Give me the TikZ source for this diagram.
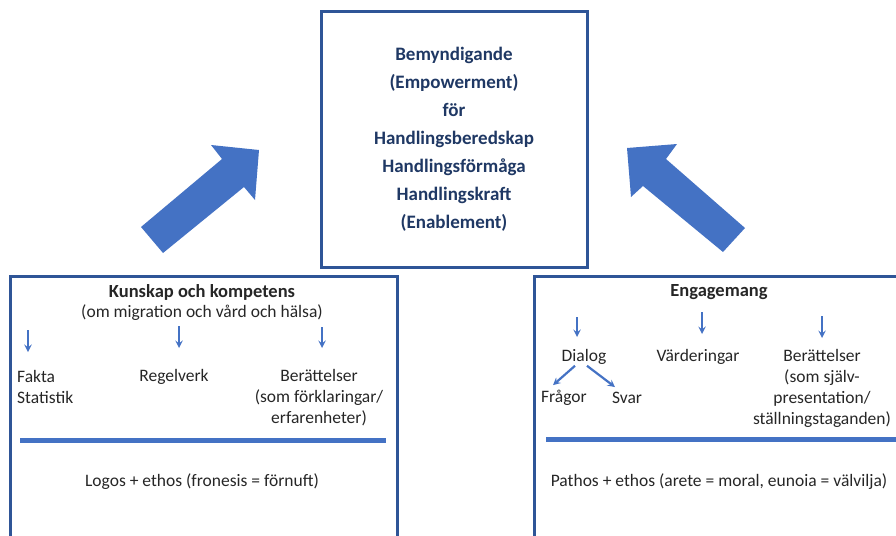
\documentclass[tikz,border=0pt]{standalone}
\usepackage{fontspec}
\setmainfont{Carlito}
\usetikzlibrary{positioning}
\definecolor{boxblue}{HTML}{2F5597}
\definecolor{arrblue}{HTML}{4472C4}
\definecolor{navy}{HTML}{1F3864}

\begin{document}
\begin{tikzpicture}[x=1pt,y=-1pt,
    frame/.style = {draw=boxblue, line width=3pt},
    txt/.style = {inner sep=0pt, align=center, text=black!85, font=\fontsize{17.5}{21}\selectfont},
    head/.style = {txt, font=\fontsize{18.5}{21}\selectfont\bfseries},
    small/.style = {draw=arrblue, line width=2.2pt, -stealth},
    sep/.style = {draw=arrblue, line width=5pt},
    bigarrow/.style = {fill=arrblue}]

    \useasboundingbox (0,0) rectangle (896,535);
    \clip (0,0) rectangle (896,535);

    % top box
    \node[frame, minimum width=266pt, minimum height=255pt, align=center,
          text=navy, font=\fontsize{19}{28}\selectfont\bfseries] (top) at (454,139.5)
        {Bemyndigande\\(Empowerment)\\för\\Handlingsberedskap\\Handlingsförmåga\\Handlingskraft\\(Enablement)};

    % big arrows
    \fill[bigarrow] (141,227) -- (222,159) -- (211,145) -- (259,150) -- (255,200) -- (244,187) -- (163,253) -- cycle;
    \fill[bigarrow] (745,228) -- (666,159) -- (677,144) -- (627,148) -- (631,197) -- (643,186) -- (723,252) -- cycle;

    % left box
    \node[frame, minimum width=387pt, minimum height=320pt, anchor=north west] (kbox) at (9,275) {};
    \node[head] (kunskap) at (202,292) {Kunskap och kompetens};
    \node[txt] (om) at (202,313) {(om migration och vård och hälsa)};
    \node[txt, anchor=west, align=left] (fakta) at (17,387) {Fakta\\Statistik};
    \node[txt] (regel) at (174,377) {Regelverk};
    \node[txt] (ber1) at (319,398) {Berättelser\\(som förklaringar/\\erfarenheter)};
    \node[txt] (logos) at (202,482) {Logos + ethos (fronesis = förnuft)};

    \coordinate (a1) at (28,330);
    \coordinate (a2) at (179,326);
    \coordinate (a3) at (322,327);
    \draw[small] (a1) -- ++(0,22);
    \draw[small] (a2) -- ++(0,22);
    \draw[small] (a3) -- ++(0,21);
    \coordinate (l1) at (20,440);
    \coordinate (l2) at (386,440);
    \draw[sep] (l1) -- (l2);

    % right box
    \node[frame, minimum width=400pt, minimum height=320pt, anchor=north west] (ebox) at (533,275) {};
    \node[head] (engage) at (719,292) {Engagemang};
    \node[txt] (dialog) at (584,357) {Dialog};
    \node[txt] (fragor) at (564,398) {Frågor};
    \node[txt] (svar) at (627,398) {Svar};
    \node[txt] (varde) at (698,357) {Värderingar};
    \node[txt] (ber2) at (822,388) {Berättelser\\(som själv-\\presentation/\\ställningstaganden)};
    \node[txt] (pathos) at (719,482) {Pathos + ethos (arete = moral, eunoia = välvilja)};

    \coordinate (b1) at (577,317);
    \coordinate (b2) at (702,312);
    \coordinate (b3) at (822,316);
    \draw[small] (b1) -- ++(0,20);
    \draw[small] (b2) -- ++(0,22);
    \draw[small] (b3) -- ++(0,22);
    \draw[small] ([xshift=-9pt,yshift=-1pt]dialog.south) -- ([xshift=-11pt,yshift=5pt]fragor.north);
    \draw[small] ([xshift=3pt,yshift=-1pt]dialog.south) -- ([xshift=-12pt,yshift=5pt]svar.north);
    \coordinate (r1) at (546,439);
    \coordinate (r2) at (900,439);
    \draw[sep] (r1) -- (r2);
\end{tikzpicture}
\end{document}
